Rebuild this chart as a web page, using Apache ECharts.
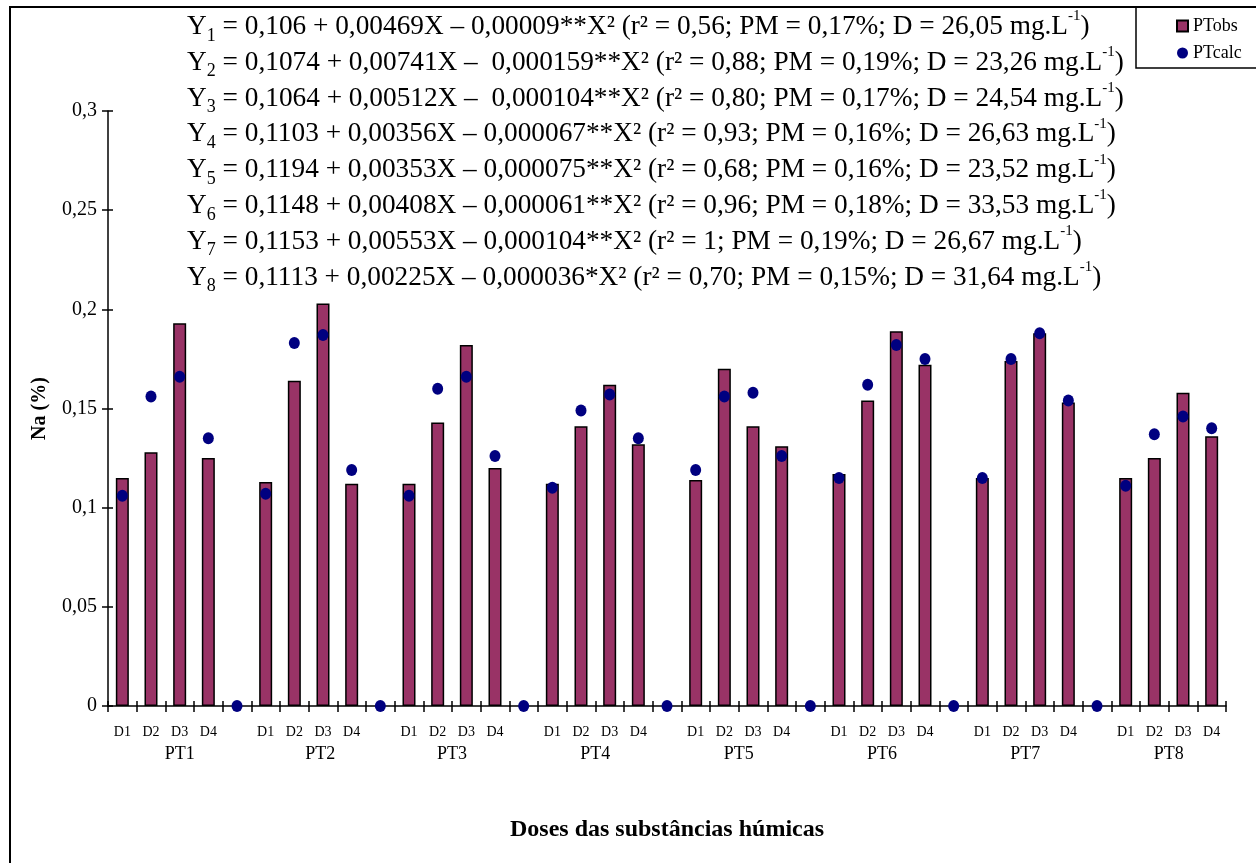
<!DOCTYPE html>
<html>
<head>
<meta charset="utf-8">
<script src="https://cdn.jsdelivr.net/npm/echarts@6/dist/echarts.min.js"></script>
<style>html,body{margin:0;padding:0;background:#fff;}#c{width:1256px;height:863px;}</style>
</head>
<body>
<div id="c"></div>
<script>
const groupLabels = ['PT1','PT2','PT3','PT4','PT5','PT6','PT7','PT8'];
const doseLabels = ['D1','D2','D3','D4'];
// where each group label sits, counted in categories from the group's first dose
const groupLabelOffset = [2.5, 2.4, 2, 2, 2, 2, 2, 2];
const ptObs = [
  [0.115, 0.128, 0.193, 0.125],
  [0.113, 0.164, 0.203, 0.112],
  [0.112, 0.143, 0.182, 0.120],
  [0.112, 0.141, 0.162, 0.132],
  [0.114, 0.170, 0.141, 0.131],
  [0.117, 0.154, 0.189, 0.172],
  [0.115, 0.174, 0.188, 0.153],
  [0.115, 0.125, 0.158, 0.136]
];
const ptCalc = [
  [0.106, 0.156, 0.166, 0.135],
  [0.107, 0.183, 0.187, 0.119],
  [0.106, 0.160, 0.166, 0.126],
  [0.110, 0.149, 0.157, 0.135],
  [0.119, 0.156, 0.158, 0.126],
  [0.115, 0.162, 0.182, 0.175],
  [0.115, 0.175, 0.188, 0.154],
  [0.111, 0.137, 0.146, 0.140]
];
const gapCalcValue = 0;
const yMin = 0, yMax = 0.3, yStep = 0.05;
const equations = [
  'Y{sub|1} = 0,106 + 0,00469X – 0,00009**X² (r² = 0,56; PM = 0,17%; D = 26,05 mg.L{sup|-1})',
  'Y{sub|2} = 0,1074 + 0,00741X –  0,000159**X² (r² = 0,88; PM = 0,19%; D = 23,26 mg.L{sup|-1})',
  'Y{sub|3} = 0,1064 + 0,00512X –  0,000104**X² (r² = 0,80; PM = 0,17%; D = 24,54 mg.L{sup|-1})',
  'Y{sub|4} = 0,1103 + 0,00356X – 0,000067**X² (r² = 0,93; PM = 0,16%; D = 26,63 mg.L{sup|-1})',
  'Y{sub|5} = 0,1194 + 0,00353X – 0,000075**X² (r² = 0,68; PM = 0,16%; D = 23,52 mg.L{sup|-1})',
  'Y{sub|6} = 0,1148 + 0,00408X – 0,000061**X² (r² = 0,96; PM = 0,18%; D = 33,53 mg.L{sup|-1})',
  'Y{sub|7} = 0,1153 + 0,00553X – 0,000104**X² (r² = 1; PM = 0,19%; D = 26,67 mg.L{sup|-1})',
  'Y{sub|8} = 0,1113 + 0,00225X – 0,000036*X² (r² = 0,70; PM = 0,15%; D = 31,64 mg.L{sup|-1})'
];

// build category axis and series data
const categories = [];
const obsData = [];
const calcData = [];
const groupCenters = [];
groupLabels.forEach((g, gi) => {
  groupCenters.push(categories.length + groupLabelOffset[gi]);
  doseLabels.forEach((d, di) => {
    categories.push(d);
    obsData.push(ptObs[gi][di]);
    calcData.push(ptCalc[gi][di]);
  });
  if (gi < groupLabels.length - 1) {
    categories.push('');
    obsData.push('-');
    calcData.push(gapCalcValue);
  }
});

const FONT = 'Liberation Serif';
const chart = echarts.init(document.getElementById('c'), null, {renderer: 'canvas'});
const fmtY = v => String(Number(v.toFixed(2))).replace('.', ',');

chart.setOption({
  backgroundColor: '#fff',
  animation: false,
  textStyle: {fontFamily: FONT, color: '#000'},
  grid: {left: 108, right: 30, top: 111, bottom: 157, containLabel: false, outerBoundsMode: 'none'},
  legend: {
    orient: 'vertical', left: 1171, top: 12, itemWidth: 11, itemHeight: 11, itemGap: 9,
    textStyle: {fontFamily: FONT, fontSize: 18, color: '#000'},
    data: [{name: 'PTobs', icon: 'rect'}, {name: 'PTcalc', icon: 'circle'}]
  },
  xAxis: [
    {
      type: 'category', data: categories, position: 'bottom', boundaryGap: true,
      axisLine: {show: true, onZero: false, lineStyle: {color: '#000', width: 1.5}},
      axisTick: {show: true, inside: false, length: 6, interval: 0, lineStyle: {color: '#000', width: 1.5}},
      axisLabel: {interval: 0, margin: 19, fontFamily: FONT, fontSize: 14, color: '#000'},
      splitLine: {show: false},
      name: 'Doses das substâncias húmicas', nameLocation: 'middle', nameGap: 112,
      nameTextStyle: {fontFamily: FONT, fontSize: 24, fontWeight: 'bold', color: '#000'}
    },
    {
      type: 'category', data: categories, position: 'bottom', boundaryGap: true,
      axisLine: {show: false, onZero: false},
      axisTick: {show: true, inside: true, length: 5, interval: 0, lineStyle: {color: '#000', width: 1.5}},
      axisLabel: {show: false}, splitLine: {show: false}
    },
    {
      type: 'value', min: 0, max: categories.length, position: 'bottom',
      axisLine: {show: false, onZero: false}, axisTick: {show: false}, splitLine: {show: false},
      axisLabel: {
        customValues: groupCenters, margin: 39, fontFamily: FONT, fontSize: 18, color: '#000',
        formatter: v => groupLabels[groupCenters.indexOf(v)] || ''
      }
    }
  ],
  yAxis: [
    {
      type: 'value', min: yMin, max: yMax, interval: yStep, position: 'left',
      axisLine: {show: true, onZero: false, lineStyle: {color: '#000', width: 1.5}},
      axisTick: {show: true, inside: false, length: 6, lineStyle: {color: '#000', width: 1.5}},
      axisLabel: {margin: 11, fontFamily: FONT, fontSize: 20, color: '#000', formatter: fmtY},
      splitLine: {show: false},
      name: 'Na (%)', nameLocation: 'middle', nameGap: 58, nameRotate: 90,
      nameTextStyle: {fontFamily: FONT, fontSize: 20, fontWeight: 'bold', color: '#000'}
    },
    {
      type: 'value', min: yMin, max: yMax, interval: yStep, position: 'left',
      axisLine: {show: false, onZero: false},
      axisTick: {show: true, inside: true, length: 5, lineStyle: {color: '#000', width: 1.5}},
      axisLabel: {show: false}, splitLine: {show: false}
    }
  ],
  series: [
    {
      name: 'PTobs', type: 'bar', xAxisIndex: 0, yAxisIndex: 0, data: obsData, barWidth: 13,
      itemStyle: {color: '#993366', borderColor: '#000', borderWidth: 1.5}
    },
    {
      name: 'PTcalc', type: 'scatter', xAxisIndex: 0, yAxisIndex: 0, data: calcData,
      symbol: 'circle', symbolSize: [11, 12], itemStyle: {color: '#000080', opacity: 1}, z: 3
    }
  ],
  graphic: [
    {type: 'rect', shape: {x: 10, y: 7, width: 1300, height: 900}, style: {fill: 'none', stroke: '#000', lineWidth: 2}, silent: true},
    {type: 'rect', shape: {x: 1136, y: 7, width: 140, height: 61}, style: {fill: 'none', stroke: '#000', lineWidth: 1.5}, silent: true},
    {
      type: 'text', left: 187, top: 9, silent: true,
      style: {
        text: equations.join('\n'), fontFamily: FONT, fontSize: 27.3, lineHeight: 35.8, fill: '#000',
        rich: {
          sub: {fontFamily: FONT, fontSize: 18, lineHeight: 20, verticalAlign: 'bottom', fill: '#000'},
          sup: {fontFamily: FONT, fontSize: 15, lineHeight: 20, verticalAlign: 'top', fill: '#000'}
        }
      }
    }
  ]
});
</script>
</body>
</html>
